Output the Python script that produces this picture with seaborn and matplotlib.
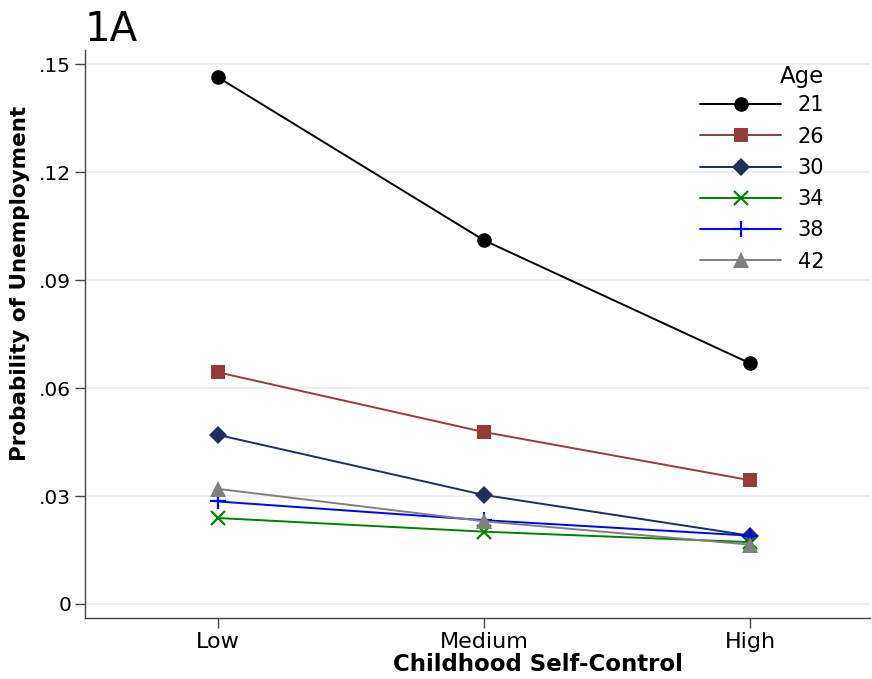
import numpy as np
import pandas as pd
import matplotlib
matplotlib.use('Agg')
import matplotlib.pyplot as plt
import seaborn as sns

# Dados
niveis = ['Low', 'Medium', 'High']
idades = ['21', '26', '30', '34', '38', '42']
p21 = [0.1464, 0.1011, 0.0669]
p26 = [0.0644, 0.0478, 0.0344]
p30 = [0.0470, 0.0303, 0.0190]
p34 = [0.0239, 0.0201, 0.0172]
p38 = [0.0285, 0.0233, 0.0190]
p42 = [0.0320, 0.0230, 0.0165]
yticks = [0, 0.03, 0.06, 0.09, 0.12, 0.15]
ytick_labels = ['0', '.03', '.06', '.09', '.12', '.15']

cores = ['#000000', '#943c3c', '#1f2f5a', '#008000', '#0000ff', '#808080']
marcadores = ['o', 's', 'D', 'x', '+', '^']
tamanhos = [10.5, 10, 9.5, 10.5, 12, 11]

sns.set_style('white')
plt.rcParams['font.family'] = ['DejaVu Sans']
plt.rcParams['text.color'] = 'black'
plt.rcParams['axes.labelcolor'] = 'black'
plt.rcParams['xtick.color'] = '#444444'
plt.rcParams['ytick.color'] = '#444444'
plt.rcParams['xtick.labelcolor'] = 'black'
plt.rcParams['ytick.labelcolor'] = 'black'

fig = plt.figure(figsize=(8.72, 6.79), dpi=100)
ax = fig.add_axes([0.0975, 0.0898, 0.9, 0.836])

series = [p21, p26, p30, p34, p38, p42]
for idade, vals, cor, m, ms in zip(idades, series, cores, marcadores, tamanhos):
    df = pd.DataFrame({'pos': range(len(niveis)), 'prob': vals})
    sns.lineplot(data=df, x='pos', y='prob', ax=ax, color=cor, marker=m,
                 markersize=ms, markeredgecolor=cor,
                 markeredgewidth=1.6 if m in ('x', '+') else 0,
                 linewidth=1.4, label=idade)

ax.set_xlim(-0.5, 2.45)
ax.set_ylim(-0.0039, 0.1539)
ax.set_xticks(range(len(niveis)))
ax.set_xticklabels(niveis, fontsize=16)
ax.set_yticks(yticks)
ax.set_yticklabels(ytick_labels, fontsize=14.5)
ax.tick_params(axis='both', direction='out', length=7, width=1,
               left=True, bottom=True, pad=3)
for y in yticks:
    ax.axhline(y, color='#e8f0f2', linewidth=1.5, zorder=0)

for s in ['top', 'right']:
    ax.spines[s].set_visible(False)
for s in ['left', 'bottom']:
    ax.spines[s].set_color('#444444')
    ax.spines[s].set_linewidth(1)

ax.set_xlabel('Childhood Self-Control', fontsize=16.5, fontweight='bold')
ax.set_ylabel('Probability of Unemployment', fontsize=15.5, fontweight='bold')
ax.xaxis.set_label_coords(0.577, -0.081, transform=ax.transAxes)
ax.yaxis.set_label_coords(-0.083, 0.59, transform=ax.transAxes)
ax.xaxis.label.set_va('center')
ax.yaxis.label.set_va('center')

leg = ax.legend(title='Age', loc='upper right', bbox_to_anchor=(0.955, 0.916),
                bbox_transform=fig.transFigure, frameon=False, fontsize=15,
                title_fontsize=16.5, handlelength=3.9, labelspacing=0.54,
                handletextpad=0.8, alignment='right', borderaxespad=0)
leg._legend_box.sep = 5

fig.text(0.097, 0.926, '1A', fontsize=29, ha='left', va='bottom')

plt.savefig('out.png', dpi=100)
